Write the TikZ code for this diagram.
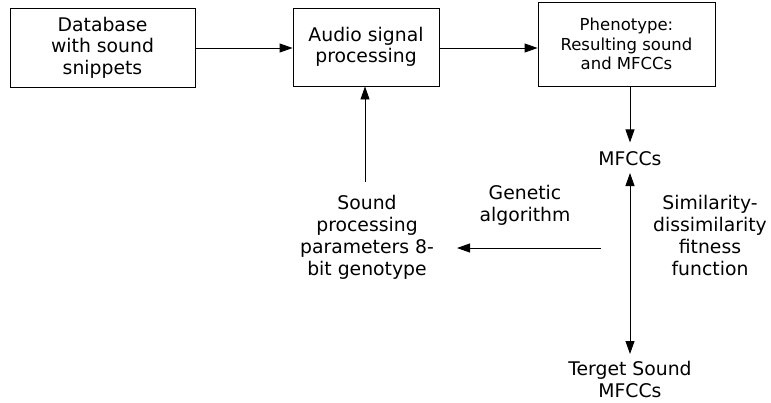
\documentclass[tikz,border=0pt]{standalone}
\usepackage{fontspec}
\setmainfont{DejaVu Sans}
\usetikzlibrary{arrows.meta}
\begin{document}
\begin{tikzpicture}[x=1pt,y=-1pt,
  box/.style={draw,line width=0.9pt,align=center,inner sep=0pt,font=\fontsize{18.8}{21.5}\selectfont},
  smallbox/.style={draw,line width=0.9pt,align=center,inner sep=0pt,font=\fontsize{16.5}{19.5}\selectfont},
  lbl/.style={align=center,inner sep=0pt,font=\fontsize{18.8}{22}\selectfont},
  arr/.style={line width=0.9pt,-{Triangle[length=13pt,width=9pt]}},
  darr/.style={line width=0.9pt,{Triangle[length=13pt,width=9pt]}-{Triangle[length=13pt,width=9pt]}}]
\useasboundingbox (0,0) rectangle (771,402);
\node[box,minimum width=185pt,minimum height=79pt] (db) at (102.5,47.5) {Database\\with sound\\snippets};
\node[box,minimum width=146pt,minimum height=78pt] (asp) at (366,47) {Audio signal\\processing};
\node[smallbox,minimum width=177pt,minimum height=84pt] (ph) at (626.5,44) {Phenotype:\\Resulting sound\\and MFCCs};
\node[lbl] (mfcc) at (630,159) {MFCCs};
\node[lbl] (target) at (630,379) {Terget Sound\\MFCCs};
\node[lbl] (spp) at (367,237) {Sound\\processing\\parameters 8-\\bit genotype};
\node[lbl] (ga) at (525,205) {Genetic\\algorithm};
\node[lbl] (sim) at (710,235) {Similarity-\\dissimilarity\\fitness\\function};
\coordinate (gastart) at (601,248);
\draw[arr] (db.east |- 0,48) -- (asp.west |- 0,48);
\draw[arr] (asp.east |- 0,48) -- (ph.west |- 0,48);
\draw[arr] (mfcc.north |- ph.south) -- ++(0,56);
\draw[darr] (630,173) -- (630,354);
\draw[arr] (gastart) -- (457,248);
\draw[arr] (365,182) -- (asp.south -| 365,0);
\end{tikzpicture}
\end{document}
